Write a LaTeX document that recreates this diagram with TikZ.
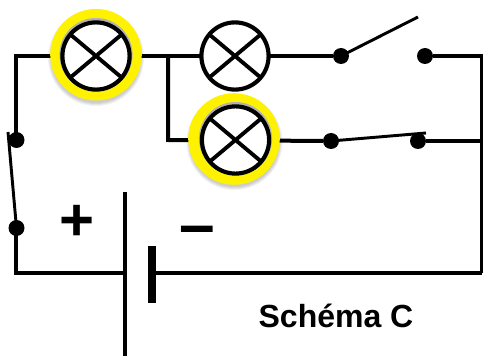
\documentclass[tikz,border=0pt]{standalone}
\usepackage{fontspec}
\setmainfont{Liberation Sans}
\tikzset{
  x=0.75pt,y=-0.75pt,
  wire/.style={line width=3pt,line cap=butt,line join=miter},
  blade/.style={line width=2.2pt},
  lampbody/.style={circle,draw=black,line width=3.1pt,fill=white,minimum size=50.4pt,inner sep=0pt,outer sep=0pt},
  cross/.style={line width=2.9pt},
  contact/.style={circle,fill=black,minimum size=12pt,inner sep=0pt,outer sep=0pt},
  plate/.style={fill=black},
  soft/.style={fill=black,opacity=0.05}
}
\begin{document}
\begin{tikzpicture}
\useasboundingbox (0,0) rectangle (483,356);
\fill[white] (0,0) rectangle (483,356);
% corners
\coordinate (tl) at (16,56);
\coordinate (bl) at (16,273);
\coordinate (tr) at (482,56);
\coordinate (br) at (482,273);
\coordinate (j) at (168,56);
\coordinate (jb) at (168,140);
\coordinate (batp) at (124,273);
\coordinate (batn) at (152,273);
% shadows of the highlighted lamps
\foreach \r in {48,47,46,45}{
  \fill[soft] (96,58) circle[radius=\r];
  \fill[soft] (234.5,142) circle[radius=\r];
}
% contacts
\node[contact] (s1a) at (341,56) {};
\node[contact] (s1b) at (425,56) {};
\node[contact] (s2a) at (331,141) {};
\node[contact] (s2b) at (418,141) {};
\node[contact] (s3a) at (16.5,140) {};
\node[contact] (s3b) at (16.5,228) {};
\coordinate (s1t) at (418,17);
\coordinate (s2t) at (426,133);
\coordinate (s3t) at (8,132);
% wires
\draw[wire] (tl|-s3a) -- (tl) -- (j);
\draw[wire] (j) -- (s1a);
\draw[wire] (j) -- (jb) -- (s2a);
\draw[wire] (s1b) -- (tr) -- (br);
\draw[wire] (s2b) -- (482,141);
\draw[wire] (bl|-s3b) -- (bl) -- (batp);
\draw[wire] (batn) -- (br);
% switch blades
\draw[blade] (s1a.center) -- (s1t);
\draw[blade] (s2a.center) -- (s2t);
\draw[blade] (s3b.center) -- (s3t);
% lamps
\fill[yellow] (96,54.7) circle[radius=45.8];
\fill[black!30] (96,54.6) circle[radius=36.6];
\node[lampbody] (l1) at (96,56) {};
\draw[cross] (l1.140) -- (l1.-40) (l1.40) -- (l1.220);
\node[lampbody] (l2) at (235,56) {};
\draw[cross] (l2.140) -- (l2.-40) (l2.40) -- (l2.220);
\fill[yellow] (234,139) circle[radius=45.8];
\fill[black!30] (235.5,138.6) circle[radius=36.6];
\node[lampbody] (l3) at (235.5,140) {};
\draw[cross] (l3.140) -- (l3.-40) (l3.40) -- (l3.220);
% battery
\fill[plate] (122.5,192) rectangle (126.5,356);
\fill[plate] (148,246) rectangle (156,303);
% labels
\node[font=\bfseries\fontsize{45}{45}\selectfont,inner sep=0pt] (plus) at (77.5,223) {+};
\node[font=\bfseries\fontsize{48}{48}\selectfont,inner sep=0pt] (minus) at (197,236) {–};
\node[font=\bfseries\fontsize{24}{24}\selectfont,inner sep=0pt,anchor=base] (title) at (336,328) {Schéma C};
\end{tikzpicture}
\end{document}
